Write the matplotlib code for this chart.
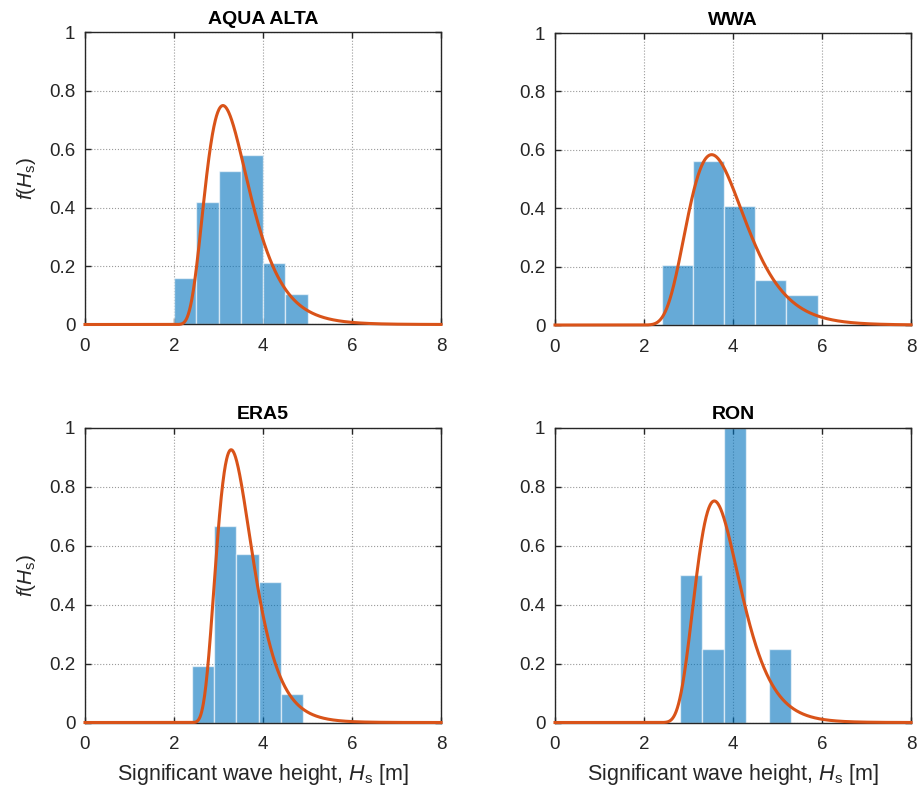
import numpy as np
import matplotlib
matplotlib.use("Agg")
import matplotlib.pyplot as plt

plt.rcParams['font.family'] = ['Liberation Sans', 'DejaVu Sans']
plt.rcParams['mathtext.fontset'] = 'custom'
plt.rcParams['mathtext.rm'] = 'Liberation Sans'
plt.rcParams['mathtext.it'] = 'Liberation Sans:italic'

# ---- data ----
titles = ["AQUA ALTA", "WWA", "ERA5", "RON"]

edges_aqua = [2.0, 2.5, 3.0, 3.5, 4.0, 4.5, 5.0]
dens_aqua = [0.158, 0.421, 0.526, 0.579, 0.211, 0.105]

edges_wwa = [2.4, 3.1, 3.8, 4.5, 5.2, 5.9]
dens_wwa = [0.204, 0.561, 0.408, 0.153, 0.102]

edges_era5 = [2.4, 2.9, 3.4, 3.9, 4.4, 4.9]
dens_era5 = [0.190, 0.667, 0.571, 0.476, 0.095]

edges_ron = [2.8, 3.3, 3.8, 4.3, 4.8, 5.3]
dens_ron = [0.50, 0.25, 1.00, 0.0, 0.25]

# fitted 3-parameter lognormal pdf parameters: (threshold, mu, sigma)
fit_aqua = (1.85, 0.378, 0.394)
fit_wwa = (1.50, 0.8065, 0.3215)
fit_era5 = (2.20, 0.2187, 0.3715)
fit_ron = (2.00, 0.5595, 0.3195)

xticks = [0, 2, 4, 6, 8]
yticks = [0, 0.2, 0.4, 0.6, 0.8, 1]
ytick_labels = ["0", "0.2", "0.4", "0.6", "0.8", "1"]

panels = [
    (titles[0], edges_aqua, dens_aqua, fit_aqua),
    (titles[1], edges_wwa, dens_wwa, fit_wwa),
    (titles[2], edges_era5, dens_era5, fit_era5),
    (titles[3], edges_ron, dens_ron, fit_ron),
]


def lognorm3_pdf(x, gamma, mu, sigma):
    y = x - gamma
    out = np.zeros_like(x)
    ok = y > 0
    yy = y[ok]
    out[ok] = np.exp(-(np.log(yy) - mu) ** 2 / (2 * sigma ** 2)) / (yy * sigma * np.sqrt(2 * np.pi))
    return out


W, H = 917, 791
fig = plt.figure(figsize=(W / 100, H / 100), dpi=100)

rects = [
    (85 / W, 1 - 324.5 / H, 356 / W, 292 / H),
    (555 / W, 1 - 325 / H, 356 / W, 292 / H),
    (85 / W, 1 - 722.5 / H, 356 / W, 295 / H),
    (555 / W, 1 - 722.5 / H, 356 / W, 295 / H),
]

dark = '#262626'
xx = np.linspace(0, 8, 1200)

for i, (title, edges, dens, fit) in enumerate(panels):
    ax = fig.add_axes(rects[i])
    e = np.array(edges)
    ax.bar(e[:-1], dens, width=np.diff(e), align='edge',
           color=(0.0, 0.447, 0.741, 0.6), edgecolor=(1, 1, 1, 0.6),
           linewidth=1.0, zorder=2)
    ax.plot(xx, lognorm3_pdf(xx, *fit), color='#D95319', lw=2.2, zorder=3,
            clip_on=False)
    ax.set_xlim(0, 8)
    ax.set_ylim(0, 1)
    ax.set_xticks(xticks)
    ax.set_yticks(yticks)
    ax.set_yticklabels(ytick_labels)
    ax.grid(True, linestyle=':', color='#9a9a9a', linewidth=0.8, zorder=0)
    ax.set_axisbelow(True)
    ax.tick_params(direction='in', top=True, right=True, length=4,
                   width=1, colors=dark, labelsize=13.5)
    ax.tick_params(axis='x', pad=10)
    ax.tick_params(axis='y', pad=7)
    for sp in ax.spines.values():
        sp.set_color(dark)
        sp.set_linewidth(1.0)
    ax.set_title(title, fontsize=14, fontweight='bold', color='black', pad=6)
    if i % 2 == 0:
        ax.set_ylabel(r'$\mathit{f}(\mathit{H}_{\mathrm{s}})$', fontsize=15,
                      color=dark, labelpad=8)
    if i >= 2:
        ax.set_xlabel(r'Significant wave height, $\mathit{H}_{\mathrm{s}}$ [m]',
                      fontsize=15.5, color=dark, labelpad=6)

fig.savefig('out.png', dpi=100)
